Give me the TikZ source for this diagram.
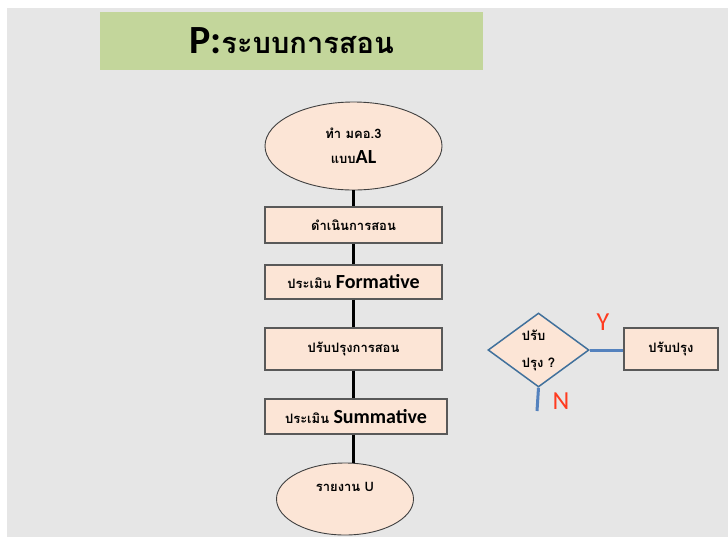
\documentclass[tikz,border=0pt]{standalone}
\usepackage{fontspec}
\setmainfont[Script=Thai]{Loma}
\newfontfamily\latin{Carlito}
\usetikzlibrary{shapes.geometric}

\definecolor{bggray}{RGB}{230,230,230}
\definecolor{titlegreen}{RGB}{195,214,155}
\definecolor{peach}{RGB}{252,229,214}
\definecolor{boxgray}{RGB}{89,89,89}
\definecolor{decblue}{RGB}{65,113,156}
\definecolor{linkblue}{RGB}{84,130,190}
\definecolor{ynred}{RGB}{255,59,31}

\begin{document}
\begin{tikzpicture}[x=1pt,y=-1pt,
  box/.style={draw=boxgray, line width=1.2pt, fill=peach, inner sep=0pt, minimum width=177pt, font=\bfseries\fontsize{13}{15}\selectfont},
  oval/.style={ellipse, draw=black!75, line width=0.9pt, fill=peach, inner sep=0pt, align=center, font=\bfseries\fontsize{13}{25}\selectfont},
  link/.style={line width=2.2pt, black},
  bluelink/.style={line width=3pt, linkblue},
  yn/.style={text=ynred, font=\latin\fontsize{26}{26}\selectfont}]

% 背景
\useasboundingbox (0,0) rectangle (728,539);
\fill[white] (0,0) rectangle (728,539);
\fill[bggray] (7,8) rectangle (728,537);

% 标题
\node[fill=titlegreen, minimum width=383pt, minimum height=58pt] (title) at (291.5,41)
  {{\latin\bfseries\fontsize{40}{40}\selectfont P:}{\bfseries\fontsize{29}{29}\selectfont ระบบการสอน}};

% 主流程
\node[oval, minimum width=177pt, minimum height=88pt] (start) at (353.5,146)
  {ทำ มคอ.3\\แบบ{\latin\bfseries\fontsize{20}{20}\selectfont AL}};
\node[box, minimum height=36pt] (teach) at (353.5,225) {ดำเนินการสอน};
\node[box, minimum height=34pt] (form) at (353.5,282) {ประเมิน {\latin\bfseries\fontsize{20}{20}\selectfont Formative}};
\node[box, minimum height=42pt] (improve) at (353.5,349) {ปรับปรุงการสอน};
\node[box, minimum width=182pt, minimum height=35pt] (summ) at (356,416.5) {ประเมิน {\latin\bfseries\fontsize{20}{20}\selectfont Summative}};
\node[oval, minimum width=137pt, minimum height=72pt] (report) at (345,499) {รายงาน U\\\mbox{}};

% 连线
\draw[link] (start.south) -- (start.south |- teach.north);
\draw[link] (teach.south -| start) -- (start |- form.north);
\draw[link] (form.south -| start) -- (start |- improve.north);
\draw[link] (improve.south -| start) -- (start |- summ.north);
\draw[link] (summ.south -| start) -- (start |- report.north);

% 判断
\node[diamond, draw=decblue, line width=1.5pt, fill=peach, inner sep=0pt, aspect=1.36,
  minimum width=101pt, minimum height=74pt, align=left, font=\bfseries\fontsize{13}{27}\selectfont] (check) at (538.5,350)
  {ปรับ\\ปรุง ?};
\node[box, minimum width=94pt, minimum height=42pt] (fix) at (671,349) {ปรับปรุง};
\coordinate (noend) at (537,411);

\draw[bluelink] (check.east) -- (check.east -| fix.west);
\draw[bluelink] (check.south) -- (noend);
\node[yn] (yes) at (603,322) {Y};
\node[yn] (no) at (561,401) {N};

\end{tikzpicture}
\end{document}
